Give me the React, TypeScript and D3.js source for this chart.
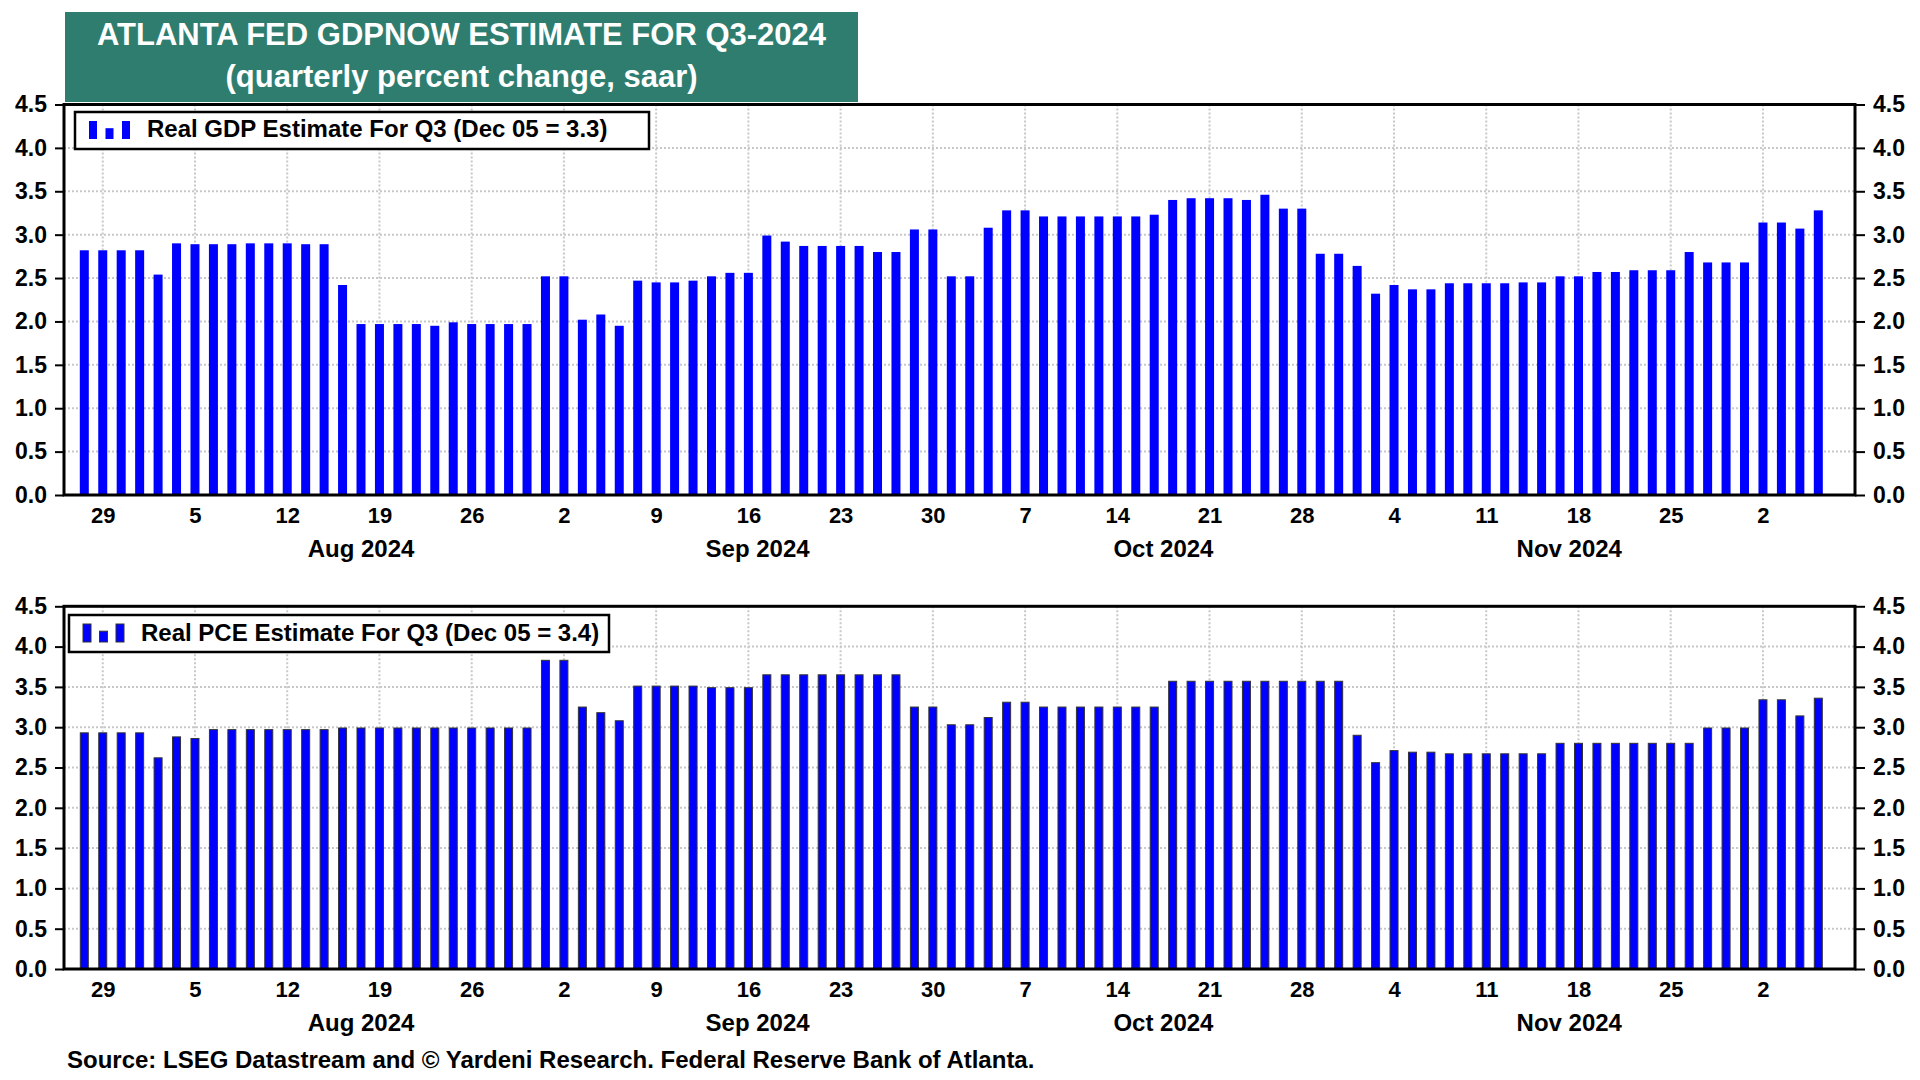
import React, { useRef, useEffect } from 'react';
import * as d3 from 'd3';

// business days on the x axis: Jul 26 – Dec 5, 2024
const days = d3.timeDay
  .range(new Date(2024, 6, 26), new Date(2024, 11, 6))
  .filter(d => d.getDay() !== 0 && d.getDay() !== 6);

// GDPNow real GDP estimate for Q3, one value per business day
const gdpValues = [
  2.82, 2.82, 2.82, 2.82,
  2.54, 2.90, 2.89, 2.89, 2.89, 2.90, 2.90, 2.90, 2.89, 2.89, 2.42, 1.97, 1.97, 1.97, 1.97, 1.95, 1.99, 1.97, 1.97, 1.97, 1.97, 2.52,
  2.52, 2.02, 2.08, 1.95, 2.47, 2.45, 2.45, 2.47, 2.52, 2.56, 2.56, 2.99, 2.92, 2.87, 2.87, 2.87, 2.87, 2.80, 2.80, 3.06, 3.06,
  2.52, 2.52, 3.08, 3.28, 3.28, 3.21, 3.21, 3.21, 3.21, 3.21, 3.21, 3.23, 3.40, 3.42, 3.42, 3.42, 3.40, 3.46, 3.30, 3.30, 2.78, 2.78, 2.64,
  2.32, 2.42, 2.37, 2.37, 2.44, 2.44, 2.44, 2.44, 2.45, 2.45, 2.52, 2.52, 2.57, 2.57, 2.59, 2.59, 2.59, 2.80, 2.68, 2.68, 2.68,
  3.14, 3.14, 3.07, 3.28,
];

// GDPNow real PCE estimate for Q3
const pceValues = [
  2.93, 2.93, 2.93, 2.93,
  2.62, 2.88, 2.86, 2.97, 2.97, 2.97, 2.97, 2.97, 2.97, 2.97, 2.99, 2.99, 2.99, 2.99, 2.99, 2.99, 2.99, 2.99, 2.99, 2.99, 2.99, 3.83,
  3.83, 3.25, 3.18, 3.08, 3.51, 3.51, 3.51, 3.51, 3.49, 3.49, 3.49, 3.65, 3.65, 3.65, 3.65, 3.65, 3.65, 3.65, 3.65, 3.25, 3.25,
  3.03, 3.03, 3.12, 3.31, 3.31, 3.25, 3.25, 3.25, 3.25, 3.25, 3.25, 3.25, 3.57, 3.57, 3.57, 3.57, 3.57, 3.57, 3.57, 3.57, 3.57, 3.57, 2.90,
  2.56, 2.71, 2.69, 2.69, 2.67, 2.67, 2.67, 2.67, 2.67, 2.67, 2.80, 2.80, 2.80, 2.80, 2.80, 2.80, 2.80, 2.80, 2.99, 2.99, 2.99,
  3.34, 3.34, 3.14, 3.36,
];

const yTicks = [0, 0.5, 1, 1.5, 2, 2.5, 3, 3.5, 4, 4.5];
const monthLabels = ['Aug 2024', 'Sep 2024', 'Oct 2024', 'Nov 2024'];
const titleLines = ['ATLANTA FED GDPNOW ESTIMATE FOR Q3-2024', '(quarterly percent change, saar)'];
const legendLabels = ['Real GDP Estimate For Q3 (Dec 05 = 3.3)', 'Real PCE Estimate For Q3 (Dec 05 = 3.4)'];
const sourceText = 'Source: LSEG Datastream and \u00A9 Yardeni Research. Federal Reserve Bank of Atlanta.';

const FONT = '"Liberation Sans", Arial, Helvetica, sans-serif';
const BLUE = '#0000ff';

const App: React.FC = () => {
  const ref = useRef<SVGSVGElement>(null);

  useEffect(() => {
    document.body.style.margin = '0';
    const svg = d3.select(ref.current);
    svg.selectAll('*').remove();

    const left = 64;
    const right = 1855;
    const x = d3.scaleLinear().domain([0, days.length - 1]).range([84.3, 1818.3]);

    const mondays = days.map((d, i) => ({ d, i })).filter(o => o.d.getDay() === 1);
    const fmtMonth = d3.timeFormat('%b %Y');

    // title box
    svg.append('rect')
      .attr('x', 65).attr('y', 12).attr('width', 793).attr('height', 90)
      .attr('fill', '#2e7d6f');
    titleLines.forEach((t, k) => {
      svg.append('text')
        .attr('x', 461.5).attr('y', 45 + k * 42)
        .attr('text-anchor', 'middle')
        .attr('font-family', FONT).attr('font-weight', 'bold').attr('font-size', 31)
        .attr('fill', '#ffffff')
        .text(t);
    });

    const panels = [
      { values: gdpValues, top: 104.5, bottom: 495, outlined: false,
        legend: { x: 75, y: 112, w: 574, h: 37, tx: 147, ty: 137, label: legendLabels[0] } },
      { values: pceValues, top: 606.3, bottom: 969, outlined: true,
        legend: { x: 69, y: 615, w: 540, h: 37, tx: 141, ty: 641, label: legendLabels[1] } },
    ];

    panels.forEach(p => {
      const y = d3.scaleLinear().domain([0, 4.5]).range([p.bottom, p.top]);
      const g = svg.append('g');

      // dotted grid
      g.selectAll('line.hgrid')
        .data(yTicks.filter(v => v > 0 && v < 4.5))
        .join('line')
        .attr('x1', left).attr('x2', right)
        .attr('y1', d => y(d)).attr('y2', d => y(d))
        .attr('stroke', '#c8c8c8').attr('stroke-width', 2).attr('stroke-dasharray', '2,2');
      g.selectAll('line.vgrid')
        .data(mondays)
        .join('line')
        .attr('x1', d => x(d.i)).attr('x2', d => x(d.i))
        .attr('y1', p.top).attr('y2', p.bottom)
        .attr('stroke', '#c8c8c8').attr('stroke-width', 2).attr('stroke-dasharray', '2,2');

      // bars
      g.selectAll('rect.bar')
        .data(p.values)
        .join('rect')
        .attr('x', (_, i) => x(i) - (p.outlined ? 4 : 4.5))
        .attr('width', p.outlined ? 8 : 9)
        .attr('y', d => y(d))
        .attr('height', d => y(0) - y(d))
        .attr('fill', BLUE)
        .attr('stroke', p.outlined ? '#333' : 'none')
        .attr('stroke-width', 1);

      // frame
      g.append('rect')
        .attr('x', left).attr('y', p.top)
        .attr('width', right - left).attr('height', p.bottom - p.top)
        .attr('fill', 'none').attr('stroke', '#000').attr('stroke-width', 3);

      // y axes on both sides
      const yl = g.append('g').attr('transform', `translate(${left},0)`)
        .call(d3.axisLeft(y).tickValues(yTicks).tickFormat(d3.format('.1f')).tickSize(9).tickPadding(8));
      const yr = g.append('g').attr('transform', `translate(${right},0)`)
        .call(d3.axisRight(y).tickValues(yTicks).tickFormat(d3.format('.1f')).tickSize(10).tickPadding(8));
      [yl, yr].forEach(a => {
        a.select('.domain').remove();
        a.selectAll('line').attr('stroke', '#000').attr('stroke-width', 2);
        a.selectAll('text')
          .attr('font-family', FONT).attr('font-weight', 'bold').attr('font-size', 23).attr('fill', '#000');
      });

      // x axis: Monday day numbers
      const xa = g.append('g').attr('transform', `translate(0,${p.bottom})`)
        .call(d3.axisBottom(x)
          .tickValues(mondays.map(m => m.i))
          .tickFormat(v => String(days[v as number].getDate()))
          .tickSize(0).tickPadding(12));
      xa.select('.domain').remove();
      xa.selectAll('text')
        .attr('dy', null).attr('y', 27.5)
        .attr('font-family', FONT).attr('font-weight', 'bold').attr('font-size', 22).attr('fill', '#000');

      // month labels
      monthLabels.forEach(m => {
        const idx = days.map((d, i) => ({ d, i })).filter(o => fmtMonth(o.d) === m).map(o => o.i);
        const cx = x((idx[0] + idx[idx.length - 1]) / 2 + 0.5);
        g.append('text')
          .attr('x', cx).attr('y', p.bottom + 62)
          .attr('text-anchor', 'middle')
          .attr('font-family', FONT).attr('font-weight', 'bold').attr('font-size', 24)
          .text(m);
      });

      // legend
      const L = p.legend;
      g.append('rect')
        .attr('x', L.x).attr('y', L.y).attr('width', L.w).attr('height', L.h)
        .attr('fill', '#fff').attr('stroke', '#000').attr('stroke-width', 2.5);
      const icon = [1, 0.6, 1];
      icon.forEach((h, k) => {
        const ih = 18 * h;
        g.append('rect')
          .attr('x', L.x + 14 + k * 16.5).attr('y', L.y + 27 - ih)
          .attr('width', 8).attr('height', ih)
          .attr('fill', BLUE)
          .attr('stroke', p.outlined ? '#333' : 'none').attr('stroke-width', 1);
      });
      g.append('text')
        .attr('x', L.tx).attr('y', L.ty)
        .attr('font-family', FONT).attr('font-weight', 'bold').attr('font-size', 24)
        .text(L.label);
    });

    // source line
    svg.append('text')
      .attr('x', 67).attr('y', 1068)
      .attr('font-family', FONT).attr('font-weight', 'bold').attr('font-size', 24)
      .text(sourceText);
  }, []);

  return <svg ref={ref} width={1920} height={1080} style={{ display: 'block', background: '#fff' }} />;
};

export default App;
